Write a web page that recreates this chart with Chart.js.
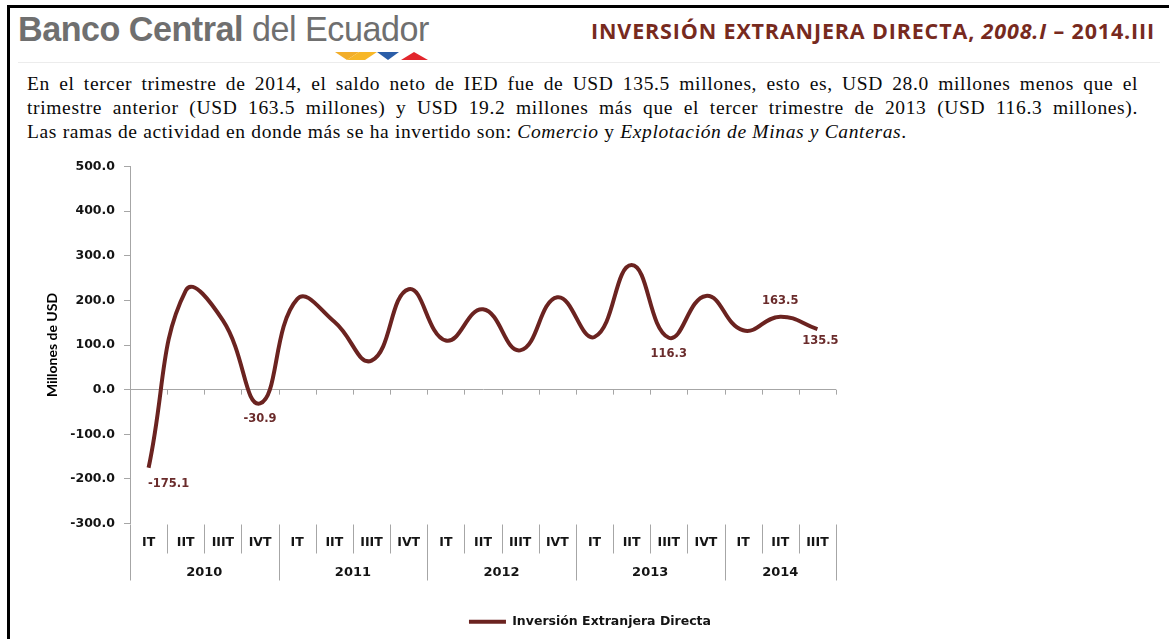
<!DOCTYPE html>
<html>
<head>
<meta charset="utf-8">
<script src="https://cdn.jsdelivr.net/npm/chart.js@4.4.1/dist/chart.umd.min.js"></script>
<style>
  body { margin:0; width:1169px; height:639px; overflow:hidden; background:#fff; position:relative; }
  .frame { position:absolute; left:7px; top:5px; width:1180px; height:700px; border-left:3px solid #000; border-top:3px solid #000; }
  .brand { position:absolute; left:18px; top:9px; font-family:"Liberation Sans", Arial, sans-serif; font-size:35px; color:#6f6f6f; white-space:nowrap; transform-origin:0 0; transform:scaleX(0.975); letter-spacing:-0.5px; }
  .brand b { font-weight:bold; }
  .logo { position:absolute; left:335px; top:52px; }
  .rule { position:absolute; left:18px; top:62px; width:1142px; height:1px; background:#ececec; }
  .title { position:absolute; right:14px; top:16px; font-family:"Open Sans", Lato, sans-serif; font-weight:bold; font-size:21.5px; letter-spacing:0.85px; color:#772a1e; white-space:nowrap; }
  .para { position:absolute; left:27px; top:72px; width:1111px; font-family:"Liberation Serif", "Times New Roman", serif; font-size:19.5px; letter-spacing:0.65px; line-height:24px; color:#0a0a0a; }
  .para div { text-align:justify; text-align-last:justify; }
  .para div.last { text-align-last:left; white-space:nowrap; }
  .wrap { position:absolute; left:0; top:150px; width:1169px; height:500px; }
</style>
</head>
<body>
<div class="frame"></div>
<div class="brand"><b>Banco Central</b> del Ecuador</div>
<svg class="logo" width="96" height="10">
  <polygon points="0,0 24,0 12,8" fill="#f2ae2a"/>
  <polygon points="12,8 24,0 42,0 30,8" fill="#f7b727"/>
  <polygon points="42,0 64,0 53,8" fill="#2b5ea8"/>
  <polygon points="66,8 79,0 93,8" fill="#e2262d"/>
</svg>
<div class="rule"></div>
<div class="title">INVERSIÓN EXTRANJERA DIRECTA, <i>2008.I</i> – 2014.III</div>
<div class="para">
  <div>En el tercer trimestre de 2014, el saldo neto de IED fue de USD 135.5 millones, esto es, USD 28.0 millones menos que el</div>
  <div>trimestre anterior (USD 163.5 millones) y USD 19.2 millones más que el tercer trimestre de 2013 (USD 116.3 millones).</div>
  <div class="last">Las ramas de actividad en donde más se ha invertido son: <i>Comercio</i> y <i>Explotación de Minas y Canteras</i>.</div>
</div>
<div class="wrap"><canvas id="chart-ied"></canvas></div>

<script>
const quarters = ['IT','IIT','IIIT','IVT','IT','IIT','IIIT','IVT','IT','IIT','IIIT','IVT','IT','IIT','IIIT','IVT','IT','IIT','IIIT'];
const years = ['2010','2011','2012','2013','2014'];
const quartersPerYear = [4, 4, 4, 4, 3];
const iedValues = [-175.1, 222, 155, -30.9, 203, 152, 65, 225, 110, 180, 88, 207, 118, 279, 116.3, 210, 133, 163.5, 135.5];
const labeledPoints = [0, 3, 14, 17, 18];
const yTicks = [-300, -200, -100, 0, 100, 200, 300, 400, 500];

const lineColor = '#6b2320';
const axisColor = '#a6a6a6';
const wideFont = '"DejaVu Sans", Verdana, sans-serif';

// etiquetas de valores sobre la curva
const valueLabels = {
  id: 'valueLabels',
  afterDatasetsDraw(chart) {
    const ctx = chart.ctx;
    const meta = chart.getDatasetMeta(0);
    ctx.save();
    ctx.font = 'bold 11.5px ' + wideFont;
    ctx.fillStyle = '#6a2b2b';
    ctx.textAlign = 'center';
    ctx.textBaseline = 'middle';
    labeledPoints.forEach(i => {
      const p = meta.data[i];
      const v = iedValues[i];
      let dx = 0, dy = 16;
      if (i == 0) { dx = 20; dy = 16; }
      if (i == 17) { dy = -16; }
      if (i == 18) { dx = 3; dy = 12; }
      ctx.fillText(v.toFixed(1), p.x + dx, p.y + dy);
    });
    ctx.restore();
  }
};

// linea de cero con marcas, separadores y años
const yearAxis = {
  id: 'yearAxis',
  afterDraw(chart) {
    const ctx = chart.ctx;
    const x = chart.scales.x;
    const y = chart.scales.y;
    const area = chart.chartArea;
    const step = x.getPixelForValue(1) - x.getPixelForValue(0);
    const edge = k => x.getPixelForValue(0) + (k - 0.5) * step;
    const y0 = y.getPixelForValue(0);
    ctx.save();
    ctx.strokeStyle = axisColor;
    ctx.lineWidth = 1;
    for (let k = 1; k <= quarters.length; k++) {
      const px = Math.round(edge(k)) + 0.5;
      ctx.beginPath();
      ctx.moveTo(px, y0);
      ctx.lineTo(px, y0 + 5);
      ctx.stroke();
    }
    let k = 0;
    const yearStarts = [0];
    quartersPerYear.forEach(n => { k += n; yearStarts.push(k); });
    for (let i = 0; i <= quarters.length; i++) {
      const px = Math.round(edge(i)) + 0.5;
      const isYear = yearStarts.includes(i);
      ctx.beginPath();
      ctx.moveTo(px, area.bottom + 1);
      ctx.lineTo(px, area.bottom + (isYear ? 57 : 30));
      ctx.stroke();
    }
    ctx.font = 'bold 13px ' + wideFont;
    ctx.fillStyle = '#141414';
    ctx.textAlign = 'center';
    ctx.textBaseline = 'middle';
    years.forEach((yr, i) => {
      const cx = (edge(yearStarts[i]) + edge(yearStarts[i + 1])) / 2;
      ctx.fillText(yr, cx, area.bottom + 49);
    });
    ctx.restore();
  }
};

const chartIed = document.getElementById('chart-ied');

new Chart(chartIed, {
  type: 'line',
  data: {
    labels: quarters,
    datasets: [{
      label: 'Inversión Extranjera Directa',
      data: iedValues,
      borderColor: lineColor,
      backgroundColor: lineColor,
      borderWidth: 4,
      pointRadius: 0,
      tension: 0.45
    }]
  },
  options: {
    responsive: true,
    maintainAspectRatio: false,
    animation: false,
    layout: { padding: { left: 40, right: 29, top: 12, bottom: 12 } },
    scales: {
      x: {
        offset: true,
        grid: { display: false, drawTicks: false },
        border: { display: false },
        ticks: {
          autoSkip: false,
          maxRotation: 0,
          padding: 12,
          color: '#141414',
          font: { family: wideFont, weight: 'bold', size: 12.5 }
        },
        afterFit(scale) { scale.height = 82; }
      },
      y: {
        min: -300,
        max: 500,
        afterBuildTicks(scale) { scale.ticks = yTicks.map(v => ({ value: v })); },
        grid: {
          color: c => (c.tick && c.tick.value === 0) ? axisColor : 'transparent',
          tickColor: axisColor,
          tickLength: 6
        },
        border: { display: true, color: axisColor },
        ticks: {
          padding: 9,
          color: '#141414',
          font: { family: wideFont, weight: 'bold', size: 12.5 },
          callback: v => Number(v).toFixed(1)
        },
        title: {
          display: true,
          text: 'Millones de USD',
          color: '#000',
          padding: 4,
          font: { family: 'Lato, sans-serif', weight: 'bold', size: 14 }
        },
        afterFit(scale) { scale.width = 90; }
      },
      // espacio vacio a la derecha del grafico
      blank: {
        type: 'linear',
        position: 'right',
        grid: { display: false, drawTicks: false },
        border: { display: false },
        ticks: { display: false },
        afterFit(scale) { scale.width = 304; }
      }
    },
    plugins: {
      legend: {
        position: 'bottom',
        labels: {
          usePointStyle: true,
          pointStyle: 'line',
          pointStyleWidth: 37,
          boxHeight: 12,
          padding: 10,
          color: '#141414',
          font: { family: wideFont, weight: 'bold', size: 12.5 }
        }
      },
      tooltip: { enabled: false }
    }
  },
  plugins: [valueLabels, yearAxis]
});
</script>
</body>
</html>
